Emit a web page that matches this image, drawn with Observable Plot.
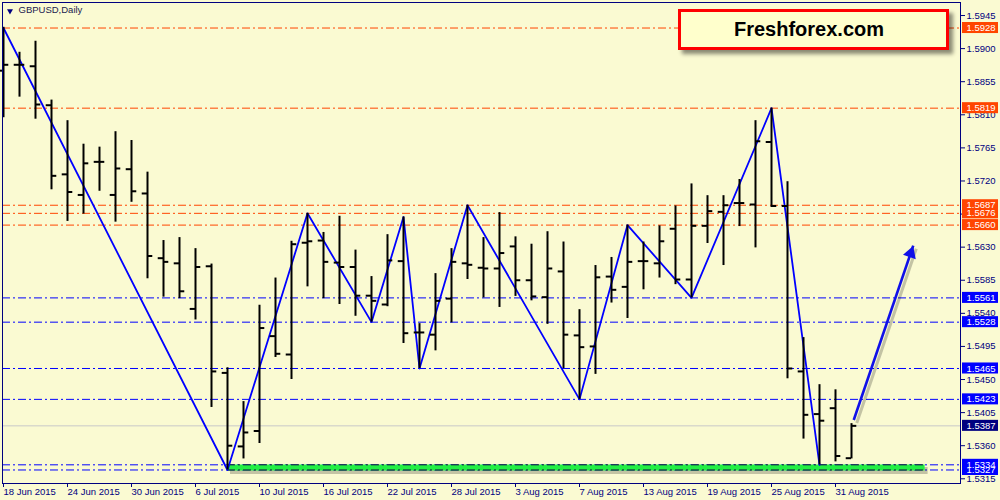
<!DOCTYPE html>
<html><head><meta charset="utf-8">
<script src="https://cdn.jsdelivr.net/npm/d3@7"></script>
<script src="https://cdn.jsdelivr.net/npm/@observablehq/plot@0.6"></script>
<style>
body{margin:0;background:#FAFAD2;}
#wrap{position:relative;width:1000px;height:500px;overflow:hidden;}
#brand{position:absolute;left:678px;top:9px;width:256px;padding-right:9px;height:35px;border:3px solid #FF0000;background:#FFFFCC;box-shadow:4px 4px 4px rgba(0,0,0,0.45);font:bold 20px "Liberation Sans",Arial,sans-serif;text-align:center;line-height:35px;color:#000;}
</style></head><body><div id="wrap"><div id="brand">Freshforex.com</div></div>
<script>
const dates = ["2015-06-18","2015-06-19","2015-06-22","2015-06-23","2015-06-24","2015-06-25","2015-06-26","2015-06-29","2015-06-30",
"2015-07-01","2015-07-02","2015-07-03","2015-07-06","2015-07-07","2015-07-08","2015-07-09","2015-07-10","2015-07-13","2015-07-14","2015-07-15","2015-07-16","2015-07-17","2015-07-20","2015-07-21","2015-07-22","2015-07-23","2015-07-24","2015-07-27","2015-07-28","2015-07-29","2015-07-30","2015-07-31",
"2015-08-03","2015-08-04","2015-08-05","2015-08-06","2015-08-07","2015-08-10","2015-08-11","2015-08-12","2015-08-13","2015-08-14","2015-08-17","2015-08-18","2015-08-19","2015-08-20","2015-08-21","2015-08-24","2015-08-25","2015-08-26","2015-08-27","2015-08-28","2015-08-31","2015-09-01"];
const open  = [1.5870,1.5878,1.5876,1.5823,1.5729,1.5701,1.5746,1.5701,1.5736,1.5703,1.5615,1.5608,1.5546,1.5604,1.5459,1.5359,1.5380,1.5509,1.5484,1.5636,1.5639,1.5609,1.5603,1.5564,1.5552,1.5611,1.5514,1.5511,1.5560,1.5608,1.5602,1.5601,1.5631,1.5585,1.5562,1.5597,1.5510,1.5495,1.5590,1.5576,1.5611,1.5608,1.5655,1.5586,1.5659,1.5678,1.5690,1.5688,1.5773,1.5686,1.5461,1.5403,1.5411,1.5343];
const high  = [1.5929,1.5895,1.5910,1.5830,1.5802,1.5770,1.5766,1.5787,1.5775,1.5732,1.5639,1.5643,1.5628,1.5607,1.5466,1.5420,1.5551,1.5588,1.5638,1.5676,1.5650,1.5672,1.5626,1.5590,1.5647,1.5671,1.5526,1.5594,1.5628,1.5687,1.5643,1.5677,1.5644,1.5634,1.5651,1.5637,1.5545,1.5605,1.5616,1.5660,1.5637,1.5659,1.5686,1.5716,1.5700,1.5700,1.5722,1.5802,1.5819,1.5719,1.5507,1.5443,1.5436,1.5390];
const low   = [1.5806,1.5834,1.5804,1.5708,1.5665,1.5675,1.5706,1.5664,1.5691,1.5587,1.5562,1.5560,1.5531,1.5412,1.5327,1.5342,1.5363,1.5480,1.5450,1.5576,1.5560,1.5552,1.5536,1.5528,1.5549,1.5499,1.5465,1.5489,1.5527,1.5586,1.5561,1.5548,1.5563,1.5557,1.5525,1.5465,1.5423,1.5457,1.5554,1.5533,1.5572,1.5588,1.5579,1.5561,1.5635,1.5605,1.5658,1.5629,1.5684,1.5451,1.5369,1.5334,1.5338,1.5342];
const close = [1.5878,1.5878,1.5824,1.5727,1.5705,1.5744,1.5746,1.5737,1.5706,1.5618,1.5610,1.5570,1.5603,1.5461,1.5360,1.5378,1.5520,1.5485,1.5634,1.5638,1.5610,1.5603,1.5564,1.5557,1.5612,1.5513,1.5514,1.5557,1.5610,1.5606,1.5601,1.5622,1.5585,1.5563,1.5601,1.5511,1.5494,1.5589,1.5572,1.5610,1.5611,1.5638,1.5586,1.5659,1.5679,1.5687,1.5690,1.5774,1.5686,1.5465,1.5402,1.5394,1.5346,1.5387];

const zigzagDates  = ["2015-06-18","2015-07-08","2015-07-15","2015-07-21","2015-07-23","2015-07-24","2015-07-29","2015-08-07","2015-08-12","2015-08-18","2015-08-25","2015-08-28"];
const zigzagPrices = [1.5928,1.5327,1.5676,1.5528,1.5671,1.5465,1.5687,1.5423,1.5660,1.5561,1.5819,1.5334];

const resistanceLevels = [1.5928,1.5819,1.5687,1.5676,1.5660];
const supportLevels = [1.5561,1.5528,1.5465,1.5423,1.5327,1.5334];
const lastPrice = 1.5387;
const supportZone = {start:"2015-07-08", low:1.5327, high:1.5334};
const forecastFrom = {bar:53.14, price:1.5395};
const forecastTo = {bar:56.86, price:1.5632};
const yTicks = [1.5315,1.5360,1.5405,1.5450,1.5495,1.5540,1.5585,1.5630,1.5675,1.5720,1.5765,1.5810,1.5855,1.5900,1.5945];
const symbolTitle = "GBPUSD,Daily";

const red = "#FF4500", blue = "#0000FF", navy = "#000080";
const idx = new Map(dates.map((d, i) => [d, i]));
const bars = dates.map((d, i) => ({i, o: open[i], h: high[i], l: low[i], c: close[i]}));
const zigzag = zigzagDates.map((d, k) => ({i: idx.get(d), p: zigzagPrices[k]}));
const xMin = -0.0625, xMax = 59.8125;
const zoneX1 = idx.get(supportZone.start), zoneX2 = dates.length - 1 + 4.6;
const labels = [
  ...resistanceLevels.map(v => ({v, fill: red})),
  ...supportLevels.map(v => ({v, fill: blue})),
  {v: lastPrice, fill: navy}
];
const boxX1 = xMax + 0.125, boxX2 = xMax + 2.375, boxH = 0.00075;
const parse = d3.utcParse("%Y-%m-%d"), fmtDate = d3.utcFormat("%-d %b %Y"), fmt4 = d3.format(".4f");
const dash = "8,3,2,3";

const chart = Plot.plot({
  width: 1000, height: 500,
  marginLeft: 2, marginRight: 40, marginTop: 2, marginBottom: 17,
  style: {background: "#FAFAD2", fontFamily: "Liberation Sans, Arial, sans-serif", fontSize: "9.5px", color: navy},
  x: {type: "linear", domain: [xMin, xMax], label: null},
  y: {domain: [1.53086, 1.59627], label: null},
  marks: [
    Plot.ruleY([lastPrice], {stroke: "#C8C8C8", strokeWidth: 1}),
    Plot.ruleY(resistanceLevels, {stroke: red, strokeDasharray: dash}),
    Plot.ruleY(supportLevels, {stroke: blue, strokeDasharray: dash}),
    Plot.ruleY([supportZone], {y: d => (d.low + d.high) / 2, x1: zoneX1, x2: zoneX2, stroke: "#000", strokeOpacity: 0.22, strokeWidth: 7, dx: 3, dy: 3}),
    Plot.ruleY([supportZone], {y: d => (d.low + d.high) / 2, x1: zoneX1, x2: zoneX2, stroke: "#22EE44", strokeWidth: 6}),
    Plot.ruleY([supportZone.low, supportZone.high], {x1: zoneX1, x2: zoneX2, stroke: "#101040", strokeDasharray: dash}),
    Plot.line(zigzag, {x: "i", y: "p", stroke: blue, strokeWidth: 1.8}),
    Plot.ruleX(bars, {x: "i", y1: "l", y2: "h", stroke: "black", strokeWidth: 2}),
    Plot.ruleY(bars, {y: "o", x1: d => d.i - 0.33, x2: "i", stroke: "black", strokeWidth: 2}),
    Plot.ruleY(bars, {y: "c", x1: "i", x2: d => d.i + 0.33, stroke: "black", strokeWidth: 2}),
    Plot.link([0], {x1: forecastFrom.bar, y1: forecastFrom.price, x2: forecastTo.bar, y2: forecastTo.price, stroke: "#000", strokeOpacity: 0.22, strokeWidth: 3, dx: 3, dy: 3}),
    Plot.link([0], {x1: forecastFrom.bar, y1: forecastFrom.price, x2: forecastTo.bar, y2: forecastTo.price, stroke: "#1010E8", strokeWidth: 2.6}),
    Plot.dot([0], {x: forecastTo.bar, y: forecastTo.price, symbol: "triangle", rotate: 19, r: 5, fill: "#1010E8", stroke: "none", dx: -2.6, dy: 7.6}),
    Plot.frame({stroke: navy}),
    Plot.axisY({anchor: "right", ticks: yTicks, tickFormat: fmt4, tickSize: 4, tickPadding: 2}),
    Plot.axisX({anchor: "bottom", ticks: d3.range(0, dates.length, 4), tickFormat: i => fmtDate(parse(dates[i])), tickSize: 4, tickPadding: 1, textAnchor: "start"}),
    Plot.rect(labels, {x1: boxX1, x2: boxX2, y1: d => d.v - boxH, y2: d => d.v + boxH, fill: d => d.fill}),
    Plot.text(labels, {x: boxX1, y: "v", text: d => fmt4(d.v), fill: "white", textAnchor: "start", dx: 4}),
    Plot.dot([0], {frameAnchor: "top-left", dx: 7.5, dy: 8.5, symbol: "triangle", rotate: 180, r: 2.2, fill: navy, stroke: "none"}),
    Plot.text([symbolTitle], {frameAnchor: "top-left", dx: 16, dy: 4, textAnchor: "start", lineAnchor: "top", fill: "#202050", fontSize: 9.5})
  ]
});
document.getElementById("wrap").prepend(chart);
</script></body></html>
